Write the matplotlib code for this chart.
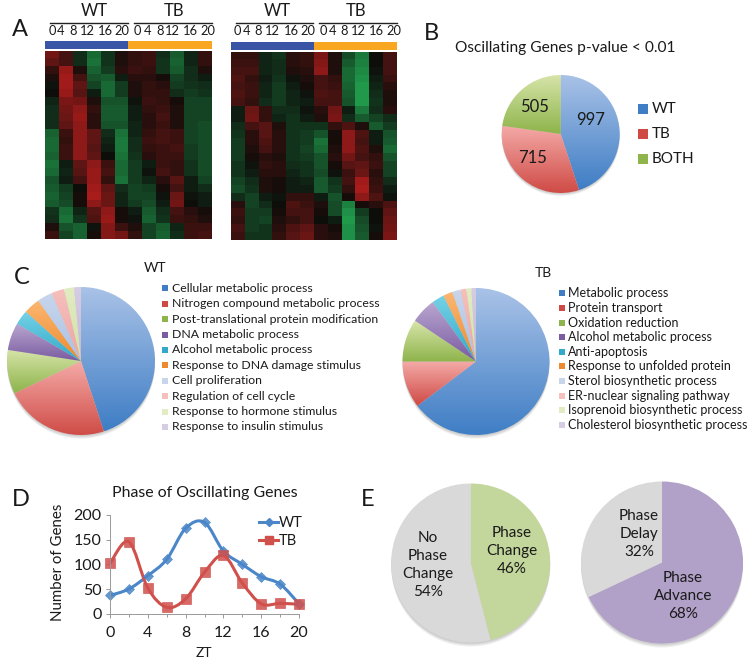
import numpy as np
import matplotlib
matplotlib.use("Agg")
from matplotlib import pyplot as plt
from matplotlib.colors import LinearSegmentedColormap, ListedColormap
from matplotlib.lines import Line2D
from matplotlib.patches import Circle, PathPatch
from matplotlib.path import Path

plt.rcParams['font.family'] = ['Lato', 'DejaVu Sans']

W, H = 754, 663
TXT = '#1a1a1a'

# panel A, expression per row, -1 green .. 1 red, WT then TB columns
heat_left = [
    [.55, .30, -.20, -.60, -.25, .10, .20, .25, -.20, -.50, -.15, .20],
    [.45, .30, -.20, -.65, -.25, .10, .20, .25, -.25, -.55, -.15, .20],
    [.20, .75, .10, -.55, -.30, .15, .25, .20, -.25, -.50, -.20, .10],
    [.10, .80, .30, -.45, -.50, -.10, .15, .15, .05, -.35, -.20, -.10],
    [-.05, .80, .45, -.35, -.60, -.30, .10, .20, .15, -.30, -.25, -.20],
    [.00, .75, .40, -.10, -.60, -.30, .10, .20, .20, -.20, -.30, -.25],
    [-.15, .60, .55, .10, -.45, -.45, -.05, .25, .20, .05, -.35, -.35],
    [-.20, .55, .70, .20, -.50, -.50, -.10, .20, .25, .10, -.35, -.35],
    [-.20, .50, .75, .15, -.50, -.50, -.10, .15, .30, .10, -.35, -.35],
    [-.20, .45, .70, .15, -.45, -.45, -.15, .15, .25, .10, -.35, -.40],
    [-.55, .25, .70, .45, -.20, -.65, -.15, .20, .30, .25, -.35, -.40],
    [-.60, .20, .70, .45, -.15, -.70, -.20, .25, .30, .25, -.35, -.40],
    [-.60, .25, .70, .40, -.10, -.70, -.20, .20, .25, .30, -.30, -.40],
    [-.55, .25, .70, .45, .00, -.65, -.25, .15, .25, .25, -.30, -.40],
    [-.65, -.10, .45, .70, .25, -.60, -.30, -.10, .25, .20, -.25, -.40],
    [-.60, -.15, .40, .75, .30, -.60, -.30, -.05, .30, .20, -.25, -.40],
    [-.45, -.10, .30, .75, .20, -.65, -.30, -.15, .15, .40, -.10, -.35],
    [-.50, -.30, .00, .80, .45, -.20, -.35, -.30, .05, .30, -.10, -.20],
    [-.55, -.35, .05, .85, .50, -.15, -.35, -.35, -.05, .50, -.05, -.10],
    [-.50, -.40, .05, .70, .50, -.15, -.30, -.40, -.10, .55, .00, -.10],
    [-.25, -.60, -.15, .40, .70, .05, -.10, -.50, -.20, .30, .15, .05],
    [-.20, -.65, -.25, .35, .75, .05, -.05, -.55, -.25, .25, .20, .10],
    [.10, -.45, -.55, -.05, .65, .25, .10, -.35, -.50, -.15, .25, .25],
    [.25, -.35, -.55, .05, .65, .55, .20, -.35, -.55, -.20, .25, .30],
]
heat_right = [
    [.20, .20, -.15, -.25, .15, .20, .60, .10, -.40, -.70, .00, .30],
    [.25, .25, -.15, -.20, .15, .20, .65, .10, -.50, -.75, .00, .30],
    [.30, .30, -.15, -.20, .10, .15, .70, .10, -.60, -.80, -.05, .30],
    [.35, .20, -.10, -.25, -.05, .10, .30, .20, -.60, -.85, -.10, .25],
    [.30, .25, -.15, -.30, -.10, .05, .30, .25, -.55, -.90, -.15, .15],
    [.35, .25, -.15, -.30, -.15, -.05, .35, .30, -.50, -.90, -.20, .10],
    [.30, .20, -.20, -.30, -.15, -.10, .30, .30, -.45, -.90, -.25, .10],
    [-.10, .50, .20, -.20, -.20, -.05, .15, .55, -.10, -.70, -.20, .15],
    [-.10, .55, .20, -.15, -.25, -.10, .10, .60, -.20, -.50, -.35, -.20],
    [-.20, .30, .40, .10, -.25, -.25, -.25, .20, .35, .10, -.50, -.30],
    [-.25, .15, .40, .15, -.25, -.30, -.45, .05, .70, .35, -.10, -.45],
    [-.30, .15, .35, .15, -.25, -.30, -.65, .05, .70, .30, -.10, -.50],
    [-.30, .10, .30, .15, -.25, -.35, -.60, .10, .70, .35, .10, -.60],
    [-.30, .05, .15, .10, -.25, -.30, -.45, .15, .55, .30, .20, -.45],
    [-.25, -.05, .20, .15, -.20, -.25, -.45, .05, .40, .45, .25, -.35],
    [-.25, -.10, .15, .15, -.15, -.25, -.40, -.05, .25, .50, .15, -.35],
    [-.35, -.20, .10, .05, -.10, -.15, -.50, -.25, .30, .80, .20, -.20],
    [-.40, -.25, .10, .05, -.10, -.10, -.50, -.30, .20, .85, .25, -.10],
    [-.20, -.35, -.10, -.05, .20, .20, -.10, -.45, .05, .70, .35, -.05],
    [.15, -.35, -.20, .00, .35, .25, .10, -.40, -.75, .05, .15, .35],
    [.25, -.30, -.30, .05, .30, .30, .05, -.40, -.85, -.30, .00, .45],
    [.20, -.30, -.35, .10, .20, .30, .00, -.10, -.90, -.40, .00, .50],
    [.30, -.30, -.25, .15, .35, .45, .15, .05, -.85, -.45, -.05, .55],
    [.25, -.25, -.25, .20, .40, .50, .15, .10, -.85, -.50, .05, .60],
]
group_bar = [0, 0, 0, 0, 0, 0, 1, 1, 1, 1, 1, 1]
hour_labels = ['0', '4', '8', '12', '16', '20']

# panel B
osc_labels = ['WT', 'TB', 'BOTH']
osc_values = [997, 715, 505]

# panel C
wt_terms = ['Cellular metabolic process', 'Nitrogen compound metabolic process',
            'Post-translational protein modification', 'DNA metabolic process',
            'Alcohol metabolic process', 'Response to DNA damage stimulus',
            'Cell proliferation', 'Regulation of cell cycle',
            'Response to hormone stimulus', 'Response to insulin stimulus']
wt_shares = [45, 22.8, 9.6, 6, 3.2, 3.6, 3.3, 2.8, 2.2, 1.5]
tb_terms = ['Metabolic process', 'Protein transport', 'Oxidation reduction',
            'Alcohol metabolic process', 'Anti-apoptosis',
            'Response to unfolded protein', 'Sterol biosynthetic process',
            'ER-nuclear signaling pathway', 'Isoprenoid biosynthetic process',
            'Cholesterol biosynthetic process']
tb_shares = [64.7, 10.3, 9.4, 5.6, 2.7, 2.1, 1.8, 1.3, 1.1, 1.0]

# panel D
zt = [0, 2, 4, 6, 8, 10, 12, 14, 16, 18, 20]
phase_wt = [37, 50, 77, 110, 173, 185, 127, 100, 75, 60, 20]
phase_tb = [102, 146, 52, 13, 30, 84, 118, 62, 20, 21, 19]

# panel E
change_values = [46, 54]
advance_values = [68, 32]

# light top, dark bottom, same order as the legends
shades = [('#a9c2e7', '#3f7ec5'), ('#f4aaa7', '#cf4a45'), ('#d6e4a8', '#8eb44b'),
          ('#baa7d0', '#7a5ca1'), ('#74d2e6', '#33a9c9'), ('#fbb772', '#ee8a2d'),
          ('#c8d6ec', '#a9c1e3'), ('#f6c0bd', '#eda5a2'), ('#e2ecc2', '#d2e2a6'),
          ('#d6cde4', '#c3b6d8')]


def axes_px(fig, x0, y0, x1, y1):
    # axes from pixel box, y measured from the top
    return fig.add_axes([x0 / W, 1 - y1 / H, (x1 - x0) / W, (y1 - y0) / H])


def heatmap(fig, data, x0, x1, y0, y1, bar_y0, bar_y1):
    ax = axes_px(fig, x0, y0, x1, y1)
    ax.imshow(np.array(data), cmap=red_green, vmin=-1, vmax=1, aspect='auto', interpolation='nearest')
    ax.axis('off')
    bar = axes_px(fig, x0, bar_y0, x1, bar_y1)
    bar.imshow([group_bar], cmap=ListedColormap(['#3a55a5', '#f9a620']), aspect='auto')
    bar.axis('off')


def pie_px(fig, values, cx, cy, r, colors=None):
    ax = axes_px(fig, cx - r - 8, cy - r - 8, cx + r + 8, cy + r + 8)
    lim = (r + 8) / r
    ax.set_xlim(-lim, lim)
    ax.set_ylim(-lim, lim)
    ax.axis('off')
    # soft shadow under the pie
    for k in range(4):
        ax.add_patch(Circle((0, -.015 - k * .012), 1, color='#000000', alpha=.05, lw=0))
    wedges, _ = ax.pie(values, startangle=90, counterclock=False, radius=1,
                       frame=False, wedgeprops={'lw': 0})
    for i, wedge in enumerate(wedges):
        if colors is not None:
            wedge.set_facecolor(colors[i])
            continue
        pts = wedge.get_patch_transform().transform(wedge.get_path().vertices)
        cm = LinearSegmentedColormap.from_list('w', [shades[i][1], shades[i][0]])
        wedge.set_facecolor('none')
        im = ax.imshow(np.linspace(1, 0, 64).reshape(-1, 1), cmap=cm, aspect='auto',
                       extent=[-1.01, 1.01, pts[:, 1].min(), pts[:, 1].max()], zorder=2)
        im.set_clip_path(wedge)
    ax.set_xlim(-lim, lim)
    ax.set_ylim(-lim, lim)
    return ax


def smooth_path(xs, ys):
    # excel style smoothed line through the points
    xs, ys = np.array(xs, float), np.array(ys, float)
    verts = [(xs[0], ys[0])]
    codes = [Path.MOVETO]
    for i in range(len(xs) - 1):
        a, b = max(i - 1, 0), min(i + 2, len(xs) - 1)
        verts.append((xs[i] + (xs[i + 1] - xs[a]) / 6, ys[i] + (ys[i + 1] - ys[a]) / 6))
        verts.append((xs[i + 1] - (xs[b] - xs[i]) / 6, ys[i + 1] - (ys[b] - ys[i]) / 6))
        verts.append((xs[i + 1], ys[i + 1]))
        codes += [Path.CURVE4] * 3
    return Path(verts, codes)


def term_legend(over, terms, sq_x, txt_x, y0, dy, size):
    for i, term in enumerate(terms):
        over.scatter(sq_x, y0 + i * dy, marker='s', s=22, color=shades[i][1] if i < 6 else shades[i][0], lw=0)
        over.text(txt_x, y0 + i * dy, term, fontsize=size, va='center', ha='left', color=TXT)


red_green = LinearSegmentedColormap.from_list('rg', ['#22a852', '#0d0d0a', '#c41f1f'])

fig = plt.figure(figsize=(W / 100, H / 100), dpi=100)

# panel A
heatmap(fig, heat_left, 44.5, 211.5, 50.5, 239, 41, 49)
heatmap(fig, heat_right, 231, 397, 51.5, 240, 41.5, 50)

# panel B and C and E pies
pie_px(fig, osc_values, 560.7, 134, 59)
pie_px(fig, wt_shares, 81, 361, 74)
pie_px(fig, tb_shares, 476, 361.5, 73.5)
pie_px(fig, change_values, 470.7, 563, 79.5, colors=['#c3d69b', '#d9d9d9'])
pie_px(fig, advance_values, 662, 562.5, 81, colors=['#b1a0c7', '#d9d9d9'])

# panel D
ax = axes_px(fig, 110, 515, 299, 613.7)
for vals, col, mark, size in [(phase_wt, '#4a86c8', 'D', 5), (phase_tb, '#d0504c', 's', 6.5)]:
    ax.add_patch(PathPatch(smooth_path(zt, vals), fill=False, edgecolor=col, lw=2.2, clip_on=False))
    ax.plot(zt, vals, ls='none', marker=mark, ms=size, mfc=col, mec=col, mew=.5, alpha=.85, clip_on=False)
ax.set_xlim(0, 20)
ax.set_ylim(0, 200)
ax.set_xticks([0, 4, 8, 12, 16, 20])
ax.set_xticks(zt, minor=True)
ax.set_yticks([0, 50, 100, 150, 200])
ax.tick_params(labelsize=11.5, length=3, width=.7, color='#999999', labelcolor=TXT, pad=3)
ax.tick_params(axis='x', pad=6)
ax.tick_params(which='minor', length=2, width=.7, color='#999999')
for s in ['top', 'right']:
    ax.spines[s].set_visible(False)
for s in ['left', 'bottom']:
    ax.spines[s].set_color('#999999')
    ax.spines[s].set_linewidth(.7)
ax.set_facecolor('none')
handles = [Line2D([], [], color='#4a86c8', lw=2.2, marker='D', ms=4.5, label='WT'),
           Line2D([], [], color='#d0504c', lw=2.2, marker='s', ms=6, label='TB')]
ax.legend(handles=handles, frameon=False, fontsize=10.5, loc='upper right', bbox_to_anchor=(1.06, 1.06),
          handlelength=1.25, handletextpad=.1, labelspacing=.25, borderpad=0, labelcolor=TXT)

# overlay for all free text, in pixel coordinates
over = fig.add_axes([0, 0, 1, 1], facecolor='none')
over.set_xlim(0, W)
over.set_ylim(H, 0)
over.axis('off')


def label(x, y, s, size=11, **kw):
    over.text(x, y, s, fontsize=size, ha=kw.pop('ha', 'center'), va='center', color=TXT, **kw)


for x, y, s in [(20, 30, 'A'), (431, 34, 'B'), (22, 278, 'C'), (21, 500, 'D'), (368, 500, 'E')]:
    label(x, y, s, size=17)

for x, s in [(94, 'WT'), (174, 'TB'), (277, 'WT'), (356, 'TB')]:
    label(x, 11, s, size=12)
for x0, x1 in [(50, 128), (134, 212), (236, 313), (319, 397)]:
    over.plot([x0, x1], [23, 23], color='#222222', lw=1)
hour_x = [[52, 61, 73, 87, 105, 122], [137, 148, 160, 172, 190, 208],
          [237, 247, 258, 272, 291, 308], [323, 333, 344, 358, 376, 394]]
for xs in hour_x:
    for x, s in zip(xs, hour_labels):
        label(x, 31, s, size=9.3)

label(565, 48, 'Oscillating Genes p-value < 0.01', size=11.2)
for x, y, v in zip([591, 533, 535], [120, 158, 107], osc_values):
    label(x, y, str(v), size=12)
for i, (y, s) in enumerate(zip([109, 134, 159], osc_labels)):
    over.scatter(642.5, y, marker='s', s=60, color=shades[i][1], lw=0)
    label(652, y, s, size=11, ha='left')

label(155, 268, 'WT', size=10)
label(543, 273, 'TB', size=10)
term_legend(over, wt_terms, 165, 172, 288.3, 15.4, 8.8)
term_legend(over, tb_terms, 561.5, 568, 293.3, 14.63, 9)

label(205, 493, 'Phase of Oscillating Genes', size=11.4)
label(58, 562, 'Number of Genes', size=10.8, rotation=90)
label(204, 653, 'ZT', size=10)

label(428, 565, 'No\nPhase\nChange\n54%', size=11, linespacing=1.36)
label(512, 551, 'Phase\nChange\n46%', size=11, linespacing=1.36)
label(639, 534, 'Phase\nDelay\n32%', size=11, linespacing=1.36)
label(683, 596, 'Phase\nAdvance\n68%', size=11, linespacing=1.36)

fig.savefig('out.png', dpi=100)
